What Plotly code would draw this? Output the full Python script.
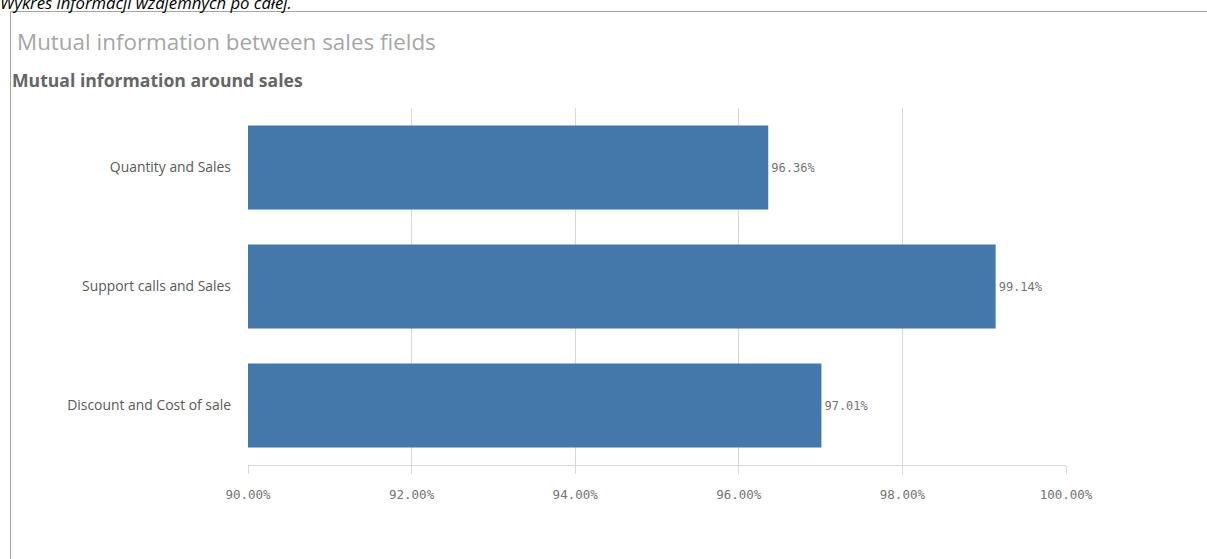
import plotly.graph_objects as go

categories = ["Quantity and Sales", "Support calls and Sales", "Discount and Cost of sale"]
values = [96.36, 99.14, 97.01]
tick_vals = [90, 92, 94, 96, 98, 100]
tick_text = ["90.00%", "92.00%", "94.00%", "96.00%", "98.00%", "100.00%"]

W, H = 1207, 559
L, R, T, B = 248, 141, 108, 94
pw, ph = W - L - R, H - T - B

def px_x(x):
    return (x - L) / pw

def px_y(y):
    return (H - B - y) / ph

fig = go.Figure()
fig.add_trace(go.Bar(
    x=values, y=categories, orientation="h",
    marker=dict(color="#4477aa", line=dict(width=0)),
    width=0.705,
    text=[f"{v:.2f}%" for v in values],
    textposition="outside",
    textfont=dict(family="DejaVu Sans Mono", size=12, color="#737373"),
    cliponaxis=False,
    hoverinfo="skip",
))

fig.update_layout(
    width=W, height=H,
    margin=dict(l=L, r=R, t=T, b=B, autoexpand=False),
    paper_bgcolor="white", plot_bgcolor="white",
    showlegend=False,
    xaxis=dict(
        range=[90, 100], tickvals=tick_vals, ticktext=tick_text,
        showgrid=True, gridcolor="#d9d9d9", gridwidth=1,
        showline=True, linecolor="#d9d9d9", linewidth=1,
        ticks="outside", ticklen=8, tickcolor="#d9d9d9", tickwidth=1,
        ticklabelstandoff=10,
        tickfont=dict(family="DejaVu Sans Mono", size=12.5, color="#737373"),
        zeroline=False, fixedrange=True,
    ),
    yaxis=dict(
        categoryorder="array", categoryarray=categories,
        autorange=False, range=[2.5, -0.5],
        showgrid=False, showline=False, ticks="", ticklabelstandoff=16,
        tickfont=dict(family="Open Sans", size=13.9, color="#595959"),
        fixedrange=True,
    ),
)

# Frame border (top and left)
fig.add_shape(type="line", xref="paper", yref="paper",
              x0=px_x(10.5), x1=px_x(1210), y0=px_y(11.5), y1=px_y(11.5),
              line=dict(color="#a6a6a6", width=1))
fig.add_shape(type="line", xref="paper", yref="paper",
              x0=px_x(10.5), x1=px_x(10.5), y0=px_y(11.5), y1=px_y(562),
              line=dict(color="#a6a6a6", width=1))

# Clipped caption at the very top
fig.add_annotation(text="<i>Wykres informacji wzajemnych po całej.</i>",
                   xref="paper", yref="paper", x=px_x(-2), y=px_y(2.5),
                   xanchor="left", yanchor="middle", showarrow=False,
                   font=dict(family="Open Sans", size=16.7, color="#000000"))

# Titles
fig.add_annotation(text="Mutual information between sales fields",
                   xref="paper", yref="paper", x=px_x(15), y=px_y(41),
                   xanchor="left", yanchor="middle", showarrow=False,
                   font=dict(family="Open Sans", size=22.4, color="#a6a6a6"))
fig.add_annotation(text="<b>Mutual information around sales</b>",
                   xref="paper", yref="paper", x=px_x(10), y=px_y(80),
                   xanchor="left", yanchor="middle", showarrow=False,
                   font=dict(family="Open Sans", size=17.6, color="#666666"))

fig.write_html("out.html", config={"displayModeBar": False},
               post_script="document.body.style.margin='0px';document.body.style.overflow='hidden';")
